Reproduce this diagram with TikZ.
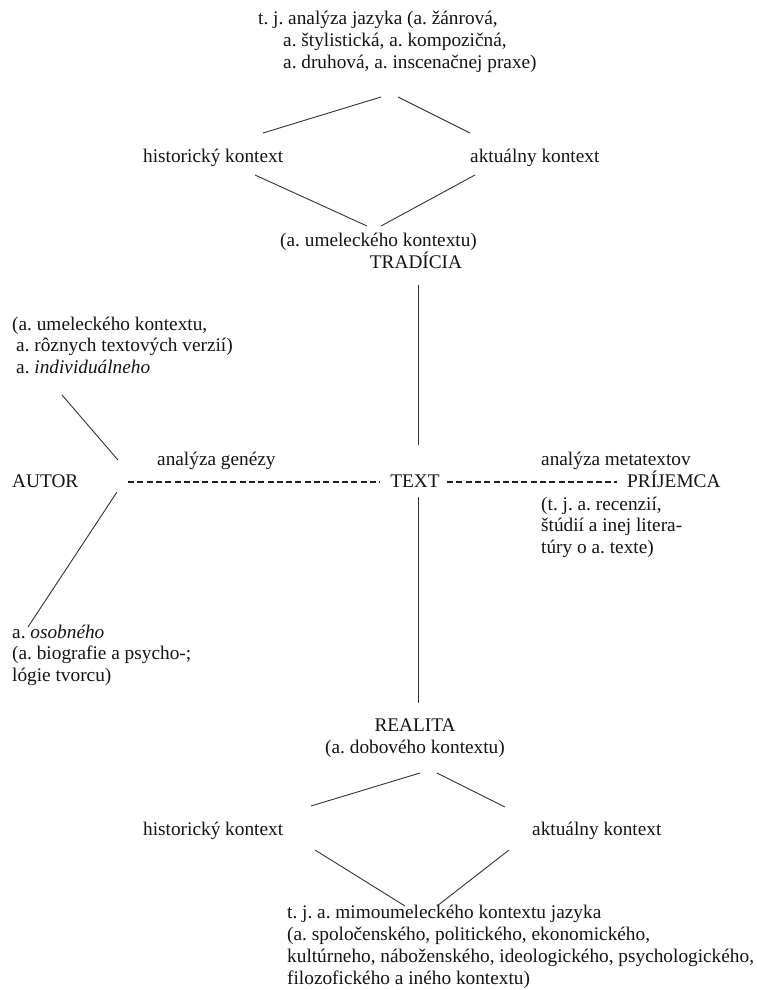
\documentclass[tikz,border=0pt]{standalone}
\usepackage{fontspec}
\setmainfont{Liberation Serif}
\frenchspacing
\begin{document}
\begin{tikzpicture}[x=1pt,y=-1pt,
  txt/.style={inner sep=0pt, anchor=base west, align=left,
    font=\fontsize{19.3}{21.7}\selectfont\frenchspacing, text=black!92},
  ctxt/.style={txt, anchor=base, align=center},
  link/.style={line width=0.9pt, draw=black!80},
  dlink/.style={line width=1.2pt, draw=black!88, dash pattern=on 6pt off 3.3pt}]
\useasboundingbox (0,0) rectangle (757,990);
\fill[white] (0,0) rectangle (757,990);

% Multi-line blocks are anchored at the baseline of their last line.

% --- upper half: language analysis and tradition
\node[txt] (lang) at (258,68.4) {t. j. analýza jazyka (a. žánrová,\\
  \hspace*{25pt}a. štylistická, a. kompozičná,\\
  \hspace*{25pt}a. druhová, a. inscenačnej praxe)};
\node[txt] (histU) at (143,162) {historický kontext};
\node[txt] (aktU) at (470,162) {aktuálny kontext};
\node[txt] (umel) at (280,246) {(a. umeleckého kontextu)};
\node[ctxt] (trad) at (416,268) {TRADÍCIA};

% --- middle axis
\node[txt] (indiv) at (12,373.4) {(a. umeleckého kontextu,\\
  \hspace*{4pt}a. rôznych textových verzií)\\
  \hspace*{4pt}a. \textit{individuálneho}};
\node[txt] (genezy) at (157,465) {analýza genézy};
\node[txt] (autor) at (12,487) {AUTOR};
\node[ctxt] (text) at (415,487) {TEXT};
\node[txt] (meta) at (541,465) {analýza metatextov};
\node[txt] (prij) at (627,487) {PRÍJEMCA};
\node[txt] (recen) at (541,553.4) {(t. j. a. recenzií,\\
  štúdií a inej litera-\\
  túry o a. texte)};
\node[txt] (osob) at (12,681.4) {a. \textit{osobného}\\
  (a. biografie a psycho-;\\
  lógie tvorcu)};

% --- lower half: reality
\node[ctxt] (real) at (415,731) {REALITA};
\node[ctxt] (dob) at (415,753) {(a. dobového kontextu)};
\node[txt] (histL) at (143,835) {historický kontext};
\node[txt] (aktL) at (532,835) {aktuálny kontext};
\node[txt] (mimo) at (287,984) {t. j. a. mimoumeleckého kontextu jazyka\\
  (a. spoločenského, politického, ekonomického,\\
  kultúrneho, náboženského, ideologického, psychologického,\\
  filozofického a iného kontextu)};

% --- line ends
\coordinate (langL) at (381,97);
\coordinate (langR) at (398,97);
\coordinate (histUt) at (263,133);
\coordinate (aktUt) at (470,133);
\coordinate (histUb) at (255,175);
\coordinate (aktUb) at (475,175);
\coordinate (umelL) at (367,226);
\coordinate (umelR) at (381,226);
\coordinate (tradB) at (418,285);
\coordinate (textT) at (418,445);
\coordinate (textB) at (418,497);
\coordinate (realT) at (418,703);
\coordinate (indivB) at (62,395);
\coordinate (gapT) at (118,460);
\coordinate (gapB) at (117,492);
\coordinate (osobT) at (28,627);
\coordinate (dashA) at (128,482);
\coordinate (dashB) at (380,482);
\coordinate (dashC) at (447,482);
\coordinate (dashD) at (617,482);
\coordinate (dobL) at (420,773);
\coordinate (dobR) at (437,773);
\coordinate (histLt) at (311,806);
\coordinate (aktLt) at (505,807);
\coordinate (histLb) at (315,850);
\coordinate (aktLb) at (509,850);
\coordinate (mimoL) at (405,906);
\coordinate (mimoR) at (437,906);

% --- connectors
\draw[link] (histUt) -- (langL);
\draw[link] (langR) -- (aktUt);
\draw[link] (histUb) -- (umelL);
\draw[link] (aktUb) -- (umelR);
\draw[link] (tradB) -- (textT);
\draw[link] (textB) -- (realT);
\draw[link] (indivB) -- (gapT);
\draw[link] (gapB) -- (osobT);
\draw[dlink] (dashA) -- (dashB);
\draw[dlink] (dashC) -- (dashD);
\draw[link] (histLt) -- (dobL);
\draw[link] (dobR) -- (aktLt);
\draw[link] (histLb) -- (mimoL);
\draw[link] (aktLb) -- (mimoR);
\end{tikzpicture}
\end{document}
